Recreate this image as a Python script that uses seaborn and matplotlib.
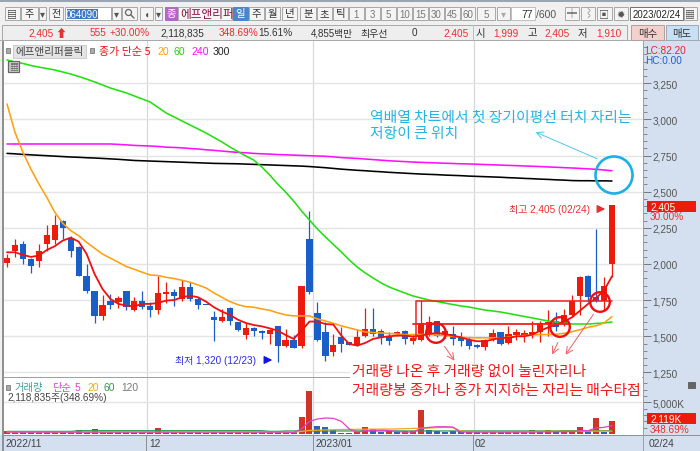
import matplotlib
matplotlib.use("Agg")
import matplotlib.pyplot as plt
from matplotlib.patches import Rectangle, Circle
from matplotlib.ticker import FuncFormatter, MultipleLocator, FixedLocator
import seaborn as sns
import pandas as pd

sns.set_theme(style="white")
FONT = ["Liberation Sans", "Noto Sans CJK KR", "DejaVu Sans"]
KFONT = ["Noto Sans CJK KR", "DejaVu Sans"]
plt.rcParams["font.family"] = FONT

opens = [2007,2088,2139,2035,2021,2139,2169,2295,2178,2118,1920,1811,1638,1747,1740,1811,1685,1744,1712,1680,
         1793,1807,1756,1839,1756,1719,1636,1608,1696,1597,1509,1558,1537,1519,1574,1431,1475,1436,2173,1662,
         1528,1394,1495,1463,1440,1500,1551,1537,1493,1514,1539,1470,1477,1516,1606,1505,1516,1486,1472,1440,
         1429,1482,1528,1452,1509,1509,1516,1532,1583,1609,1585,1650,1781,1915,1770,1747,1999]
closes = [2042,2134,2035,1989,2093,2203,2270,2249,2090,1915,1814,1643,1717,1715,1763,1703,1744,1703,1682,1800,
          1804,1779,1839,1756,1715,1713,1611,1631,1606,1546,1555,1535,1526,1546,1433,1472,1422,1846,1809,1472,
          1366,1440,1449,1440,1498,1551,1516,1491,1470,1528,1482,1490,1590,1602,1505,1539,1482,1466,1431,1429,
          1475,1526,1447,1514,1532,1523,1532,1590,1597,1562,1650,1747,1913,1770,1747,1846,2405]
highs = [2069,2173,2162,2040,2139,2270,2339,2307,2192,2127,2000,1816,1786,1793,1777,1811,1770,1811,1735,1920,
         1878,1827,1892,1878,1770,1719,1678,1689,1701,1602,1590,1562,1544,1551,1574,1551,1509,1846,2365,1735,
         1597,1516,1562,1463,1551,1694,1694,1551,1532,1540,1546,1510,1754,1643,1606,1560,1574,1528,1493,1447,
         1482,1551,1532,1569,1551,1546,1609,1609,1685,1666,1689,1786,1915,1924,2242,1908,2405]
lows = [1977,2046,2000,1938,1977,2093,2139,2173,2051,1915,1800,1592,1615,1689,1698,1685,1678,1689,1632,1655,
        1731,1712,1747,1747,1689,1713,1470,1601,1579,1539,1482,1505,1482,1447,1320,1424,1417,1417,1795,1468,
        1327,1366,1394,1440,1431,1493,1505,1447,1440,1500,1447,1450,1470,1505,1493,1490,1440,1436,1413,1417,
        1406,1470,1440,1447,1477,1463,1486,1459,1505,1539,1574,1631,1648,1735,1735,1678,1910]
ma5 = [2081,2081,2063,2049,2058,2097,2123,2162,2182,2155,2070,1931,1827,1758,1724,1712,1708,1724,1724,1731,
       1747,1751,1770,1781,1770,1740,1701,1671,1648,1615,1592,1578,1569,1555,1539,1509,1482,1539,1602,1602,
       1585,1581,1505,1447,1436,1454,1482,1493,1500,1505,1505,1498,1505,1516,1523,1516,1505,1493,1477,1466,
       1466,1477,1489,1489,1500,1500,1512,1539,1562,1581,1602,1632,1678,1724,1765,1816,1915]
ma20 = [3107,2911,2773,2657,2554,2461,2358,2282,2231,2196,2150,2109,2069,2040,2012,1982,1963,1943,1924,1920,
        1908,1899,1887,1874,1855,1834,1800,1770,1740,1719,1705,1701,1689,1680,1662,1648,1641,1641,1641,1620,
        1606,1590,1572,1558,1544,1530,1526,1523,1519,1516,1512,1512,1512,1514,1509,1505,1500,1493,1491,1489,
        1489,1489,1489,1493,1500,1505,1509,1512,1512,1514,1521,1532,1546,1562,1573,1592,1636]
ma60 = [3411,3397,3387,3373,3362,3352,3342,3328,3314,3297,3279,3259,3238,3217,3200,3183,3162,3141,3120,3082,
        3044,3017,2989,2961,2934,2906,2875,2844,2809,2778,2747,2719,2671,2616,2553,2498,2436,2367,2304,2242,
        2187,2135,2083,2028,1979,1938,1903,1869,1841,1820,1799,1779,1765,1751,1741,1730,1720,1710,1703,1692,
        1682,1675,1668,1658,1647,1637,1627,1616,1606,1599,1592,1585,1585,1585,1589,1592,1599]
ma240 = [2830]*14 + [2827,2824,2820,2818,2816,2813,2808,2806,2803,2799,2795,2790,2786,2781,2776,2772,2769,2765,
         2762,2760,2757,2755,2753,2751,2749,2747,2745,2741,2736,2733,2730,2726,2722,2718,2714,2711,2708,2705,
         2703,2701,2699,2697,2695,2693,2692,2690,2688,2686,2684,2682,2680,2678,2676,2674,2671,2669,2666,2664,
         2661,2658,2655,2650,2645]
ma300 = [2765,2762,2758,2755,2752,2749,2746,2743,2740,2738,2735,2733,2730,2727,2724,2720,2716,2714,2712,2710,
         2708,2706,2704,2702,2700,2698,2696,2695,2694,2693,2691,2689,2687,2685,2683,2681,2679,2677,2674,2670,
         2666,2661,2656,2652,2648,2645,2641,2638,2634,2631,2628,2625,2622,2620,2618,2615,2613,2611,2608,2606,
         2604,2602,2600,2597,2595,2592,2590,2587,2585,2582,2580,2577,2576,2576,2575,2575,2574]
volumes = [450,260,260,250,260,250,250,250,250,620,250,780,300,250,300,250,250,250,250,940,
           250,250,260,250,250,200,250,260,250,250,250,250,250,250,250,250,250,2730,6830,1210,
           1050,680,200,200,260,1150,840,300,420,300,420,420,3740,620,420,300,420,420,420,300,
           260,420,300,300,420,260,580,370,580,370,420,420,1050,526,2470,370,2119]
vol_up = [1,1,0,0,1,1,1,0,1,1,0,1,1,0,0,0,0,1,1,1,
          0,0,1,0,0,0,0,1,0,1,1,0,1,1,0,1,0,1,1,0,
          0,0,0,0,1,1,0,0,1,0,1,1,1,0,0,0,0,0,1,0,
          1,1,0,1,1,1,1,0,1,0,1,1,1,0,1,0,1]
vol_ma5 = [300]*36 + [250,790,2000,2366,2520,2470,2000,790,315,500,550,600,550,400,300,300,900,1050,1150,1150,1100,
           300,300,300,300,300,300,300,300,300,300,320,340,350,350,380,500,526,950,1050,1315]
vol_ma20 = [300]*37 + [400,560,600,640,680,700,720,740,760,770,780,790,800,830,880,900,930,1000,1050,1000,
            480,400,380,360,350,350,350,350,360,380,400,420,420,420,430,440,450,450,450,450]
vol_ma60 = [410]*9 + [520]*24 + [420,420] + [480]*35 + [520]*7

n = len(closes)
idx = list(range(n))
RED, BLUE = "#ec1c0c", "#1a5fc8"
XPX = lambda p: (p - 7) / 7.96

fig = plt.figure(figsize=(7, 4.52), dpi=100, facecolor="#f0f0f0")
def axpx(x0, y0, x1, y1, **kw):
    return fig.add_axes([x0/700, 1-y1/452, (x1-x0)/700, (y1-y0)/452], **kw)

# ---------- price panel ----------
ax = axpx(3, 42, 643, 378, facecolor="white")
up = [c >= o for o, c in zip(opens, closes)]
cols = [RED if u else BLUE for u in up]
ax.vlines(idx, lows, highs, colors=cols, lw=0.9, zorder=3)
ax.bar(idx, [max(abs(c-o), 7) for o, c in zip(opens, closes)], bottom=[min(o, c) for o, c in zip(opens, closes)],
       width=0.78, color=cols, linewidth=0, zorder=4)
for vals, col, w in [(ma300, "#000000", 1.15), (ma240, "#ff10ff", 1.15), (ma60, "#22e010", 1.15), (ma20, "#ffa010", 1.15), (ma5, "#f01010", 1.3)]:
    sns.lineplot(x=idx, y=vals, ax=ax, color=col, lw=w, estimator=None, legend=False, zorder=5)
ax.set_xlim(XPX(3), XPX(643))
ax.set_ylim(2000 + (265-378)*6.916, 2000 + (265-42)*6.916)
ax.yaxis.tick_right()
ax.yaxis.set_major_locator(FixedLocator([1250,1500,1750,2000,2250,2500,2750,3000,3250]))
ax.yaxis.set_minor_locator(MultipleLocator(50))
ax.yaxis.set_major_formatter(FuncFormatter(lambda v, p: f"{int(v):,}"))
ax.tick_params(axis="y", which="major", length=6, width=0.7, color="#777777", labelcolor="#555555", labelsize=7.2, pad=1, right=True)
ax.tick_params(axis="y", which="minor", length=3, width=0.6, color="#777777", right=True)
ax.grid(axis="y", which="major", color="#e4e4e4", lw=1)
ax.set_xticks([XPX(146.7), XPX(313.3), XPX(473.7)], labels=[])
ax.tick_params(axis="x", length=0)
ax.grid(axis="x", color="#d8d8d8", lw=0.9)
ax.set_axisbelow(True)
for s in ax.spines.values():
    s.set_visible(False)
ax.set_xlabel(""); ax.set_ylabel("")

# ---------- volume panel ----------
vx = axpx(3, 378, 643, 436, facecolor="white")
vdf = pd.DataFrame({"i": idx, "v": volumes, "d": ["u" if u else "d" for u in vol_up]})
sns.barplot(data=vdf, x="i", y="v", hue="d", native_scale=True, dodge=False, palette={"u": RED, "d": BLUE},
            width=0.75, ax=vx, legend=False, linewidth=0, zorder=3, order=None)
sns.lineplot(x=idx, y=vol_ma60, ax=vx, color="#2a9a50", lw=0.9, estimator=None, legend=False, zorder=4)
sns.lineplot(x=idx, y=vol_ma20, ax=vx, color="#f0a820", lw=0.9, estimator=None, legend=False, zorder=5)
sns.lineplot(x=idx, y=vol_ma5, ax=vx, color="#e040c8", lw=0.9, estimator=None, legend=False, zorder=6)
vx.set_xlim(XPX(3), XPX(643))
vx.set_ylim(-1/0.00634, 57/0.00634)
vx.yaxis.tick_right()
vx.yaxis.set_major_locator(FixedLocator([5000]))
vx.yaxis.set_minor_locator(FixedLocator([1000,2000,3000,4000,6000,7000,8000]))
vx.yaxis.set_major_formatter(FuncFormatter(lambda v, p: "5,000K"))
vx.tick_params(axis="y", which="major", length=6, width=0.7, color="#777777", labelcolor="#555555", labelsize=7.2, pad=1, right=True)
vx.tick_params(axis="y", which="minor", length=3, width=0.6, color="#777777", right=True)
vx.grid(axis="y", which="major", color="#e4e4e4", lw=1)
vx.set_xticks([XPX(146.7), XPX(313.3), XPX(473.7)], labels=[])
vx.tick_params(axis="x", length=0)
vx.grid(axis="x", color="#d8d8d8", lw=0.9)
vx.set_axisbelow(True)
for s in vx.spines.values():
    s.set_visible(False)
vx.set_xlabel(""); vx.set_ylabel("")

# ---------- overlay (interface and annotations, in pixels) ----------
ov = axpx(0, 0, 700, 452, facecolor="none", zorder=10)
ov.set_xlim(0, 700); ov.set_ylim(452, 0); ov.axis("off")

def rect(x0, y0, x1, y1, fc="none", ec="none", lw=0.7, z=1):
    ov.add_patch(Rectangle((x0, y0), x1-x0, y1-y0, fc=fc, ec=ec, lw=lw, zorder=z))
def txt(x, y, s, c="#333333", fs=7.2, ha="left", kr=False, w="normal", z=6):
    ov.text(x, y, s, color=c, fontsize=fs, ha=ha, va="center", family=KFONT if kr else FONT, fontweight=w, zorder=z)
def btn(x0, x1, s="", c="#333333", fc="#f4f4f4", kr=True, fs=7.2):
    rect(x0, 8, x1, 21, fc=fc, ec="#a8a8a8")
    if s:
        txt((x0+x1)/2, 14.5, s, c, fs, "center", kr)

# right rail and date strip (behind the axis labels)
back = axpx(0, 0, 700, 452, facecolor="none", zorder=-1)
back.set_xlim(0, 700); back.set_ylim(452, 0); back.axis("off")
back.add_patch(Rectangle((643, 42), 57, 410, fc="#d4e0ef", ec="none"))
back.add_patch(Rectangle((0, 436), 700, 16, fc="#d4e0ef", ec="none"))
rect(0, 0, 700, 3, fc="#9aa4b4")
rect(2, 42, 3.5, 452, fc="#909090")
rect(2, 377.5, 643, 378.8, fc="#a0a0a0", z=0.5)
rect(2, 435.5, 700, 436.8, fc="#909090")
rect(642.5, 42, 644, 452, fc="#a0a0a0")
for px in (146.7, 313.3, 473.7):
    rect(px-.5, 437, px+.5, 452, fc="#909090")
rect(0, 41, 700, 42, fc="#b0b0b0")

# toolbar
btn(5, 20, "▤", "#444444", kr=False); btn(21, 38, "주"); btn(39, 46, "▾", "#555555", kr=False); btn(49, 63, "전")
rect(65, 8, 111, 21, fc="white", ec="#a8a8a8"); rect(67, 9.5, 98, 19.5, fc="#3b78c8", z=2); txt(82, 14.5, "064090", "white", 7, "center", z=3)
btn(112, 121, "▾", "#555555", kr=False)
btn(122, 137)
ov.add_patch(Circle((128.5, 13.5), 3, fc="none", ec="#666666", lw=0.9, zorder=5))
ov.plot([130.7, 134], [15.7, 19], color="#666666", lw=1, zorder=5)
btn(140, 153, "◖", "#555555", kr=False); btn(155, 162, "▾", "#555555", kr=False)
rect(165, 8, 178, 21, fc="#b565c8", ec="#b565c8"); txt(171.5, 14.5, "종", "white", 7.5, "center", True)
rect(178, 8, 232, 21, fc="#f6f6f6", ec="#b0b0b0"); txt(180, 14.5, "에프앤리퍼", "#8a1040", 8.4, "left", True)
rect(233, 8, 248, 21, fc="#4a86c8", ec="#4a86c8"); txt(240.5, 14.5, "일", "white", 7.5, "center", True)
for a, b, s in [(249,264,"주"),(265,280,"월"),(282,297,"년"),(300,316,"분"),(317,332,"초"),(333,348,"틱")]:
    btn(a, b, s, fs=7.5)
for a, b, s in [(349,364,"1"),(365,380,"3"),(381,396,"5"),(397,412,"10"),(413,428,"15"),(429,444,"30"),(445,460,"45"),(461,475,"60")]:
    btn(a, b, s, "#777777", kr=False, fs=7)
btn(477, 495, "5", "#777777", kr=False, fs=7); btn(497, 510, "▾", "#aaaaaa", kr=False)
rect(511, 8, 535, 21, fc="white", ec="#c0c0c0"); txt(533, 14.5, "77", "#333333", 7.5, "right")
txt(536, 14.5, "/600", "#555555", 7.5)
btn(565, 579, "┿", "#444444", kr=False); btn(581, 595, "⌇", "#777777", kr=False); btn(597, 612, "▣", "#555555", kr=False); btn(614, 628, "✹", "#555555", kr=False)
rect(630, 8, 683, 21, fc="white", ec="#707070"); txt(656.5, 14.5, "2023/02/24", "#222222", 6.9, "center")
btn(684, 697, "▦", "#555555", kr=False)

# quote row
rect(2, 26, 627, 40.5, fc="#eeeeee", ec="#a8a8a8")
rect(145.5, 26, 146.3, 40.5, fc="#c0c0c0"); rect(288.5, 26, 289.3, 40.5, fc="#c0c0c0"); rect(473, 26, 473.8, 40.5, fc="#c0c0c0")
R2 = "#e83030"
txt(28, 33.5, "2,405", R2); txt(55, 33.5, "⬆", R2, 8, kr=False)
txt(90, 33.5, "555", R2); txt(110, 33.5, "+30.00%", R2)
txt(160, 33.5, "2,118,835", "#333333"); txt(219, 33.5, "348.69%", R2); txt(258, 33.5, "15.61%", "#333333")
txt(311, 33.5, "4,855백만", "#333333", 7); txt(360, 33.5, "최우선", "#333333", 7.2, kr=True); txt(412, 33.5, "0", "#333333")
txt(443, 33.5, "2,405", R2); txt(476, 33.5, "시", "#333333", 7.5, kr=True); txt(493, 33.5, "1,999", R2)
txt(527, 33.5, "고", "#333333", 7.5, kr=True); txt(544, 33.5, "2,405", R2); txt(578, 33.5, "저", "#333333", 7.5, kr=True); txt(596, 33.5, "1,910", R2)
rect(631, 26, 664, 40.5, fc="#f4d0cc", ec="#b0a0a0"); txt(647.5, 33.5, "매수", "#333333", 7.5, "center", True)
rect(666, 26, 698, 40.5, fc="#c8e0f5", ec="#a0a8b0"); txt(682, 33.5, "매도", "#333333", 7.5, "center", True)

# chart legend
rect(6, 49, 10, 54, fc="#aaaaaa", ec="#888888")
rect(13, 45.5, 86, 59, fc="#e4e4e4", ec="#cccccc"); txt(15, 52, "에프앤리퍼블릭", "#444444", 7.6, kr=True)
rect(90, 49, 94, 54, fc="#aaaaaa", ec="#888888")
txt(99, 52, "종가 단순 5", "#f01010", 7.9, kr=True)
txt(158, 52, "20", "#ffa010", 7.6); txt(174, 52, "60", "#22d010", 7.6); txt(191, 52, "240", "#ff10ff", 7.6); txt(213, 52, "300", "#222222", 7.6)
rect(8, 62, 18.5, 72.5, fc="#d0d0d0", ec="#666666", lw=0.9); txt(13.2, 67, "▦", "#666666", 6.5, "center", kr=False)
txt(645, 50.5, "LC:82.20", "#ee2020", 7.2); txt(645, 61, "HC:0.00", "#2060d0", 7.2)

# volume legend
rect(6, 386, 10, 391, fc="#aaaaaa", ec="#888888")
txt(15, 388, "거래량", "#3aa09a", 7.4, kr=True); txt(52, 388, "단순", "#e040c8", 7.4, kr=True)
txt(75, 388, "5", "#e040c8", 7.4); txt(87, 388, "20", "#f0a820", 7.4); txt(104, 388, "60", "#2a9a50", 7.4); txt(121, 388, "120", "#777777", 7.4)
txt(7, 398, "2,118,835주(348.69%)", "#444444", 7.2)
txt(5, 444.5, "2022/11", "#444444", 7.4); txt(149, 444.5, "12", "#444444", 7.4)
txt(315, 444.5, "2023/01", "#444444", 7.4); txt(475, 444.5, "02", "#444444", 7.4); txt(649, 444.5, "02/24", "#444444", 7.4)
rect(688, 383, 695, 388.5, fc="#666666", ec="#666666")

# current value tags
rect(647, 202, 696, 213, fc="#ec1c0c"); txt(650, 207.5, "2,405", "white", 7.2)
txt(650, 217, "30.00%", "#e83030", 7.2)
rect(647, 414, 696, 425, fc="#ec1c0c"); txt(650, 419.5, "2,119K", "white", 7.2)
txt(650, 430, "348.69%", "#e83030", 7.2)

# hand-drawn notes
BL = "#25b4e6"
ov.add_patch(Circle((614, 176), 18.5, fc="none", ec="#1cb0e4", lw=1.9, zorder=5))
ov.annotate("", xy=(533, 132), xytext=(600, 161), arrowprops=dict(arrowstyle="->", color="#55c4ee", lw=0.7), zorder=5)
txt(370, 117.5, "역배열 차트에서 첫 장기이평선 터치 자리는", BL, 10.65, kr=True, w="medium")
txt(370, 134, "저항이 큰 위치", BL, 10.65, kr=True, w="medium")

rect(350, 365, 642, 399.5, fc="white", z=1)
txt(352, 372, "거래량 나온 후 거래량 없이 눌린자리나", "#f01818", 10.65, kr=True, w="medium")
txt(352, 391, "거래량봉 종가나 종가 지지하는 자리는 매수타점", "#f01818", 10.65, kr=True, w="medium")
RD = "#f02020"
ov.plot([416, 416, 612], [340, 301.5, 301.5], color=RD, lw=1.1, zorder=5)
ov.plot([413, 570], [325, 325], color=RD, lw=1.3, zorder=5)
for cx, cy in [(436, 334), (560, 328), (600, 303)]:
    ov.add_patch(Circle((cx, cy), 9.8, fc="none", ec="#ee1010", lw=1.7, zorder=5))
for a, b in [((443, 345), (456, 364)), ((559, 341), (551, 358)), ((595, 313), (564, 358))]:
    ov.annotate("", xy=b, xytext=a, arrowprops=dict(arrowstyle="->", color="#f06060", lw=0.7), zorder=5)
txt(175, 361, "최저 1,320 (12/23)", "#2a2aee", 7.2)
ov.annotate("", xy=(275, 361), xytext=(262, 361), arrowprops=dict(arrowstyle="-|>", color="#1010ee", lw=0.9), zorder=5)
txt(509, 210, "최고 2,405 (02/24)", "#e83030", 7.2)
ov.annotate("", xy=(608, 210), xytext=(596, 210), arrowprops=dict(arrowstyle="-|>", color="#e83030", lw=0.9), zorder=5)

fig.savefig("out.png", dpi=100, facecolor=fig.get_facecolor())
